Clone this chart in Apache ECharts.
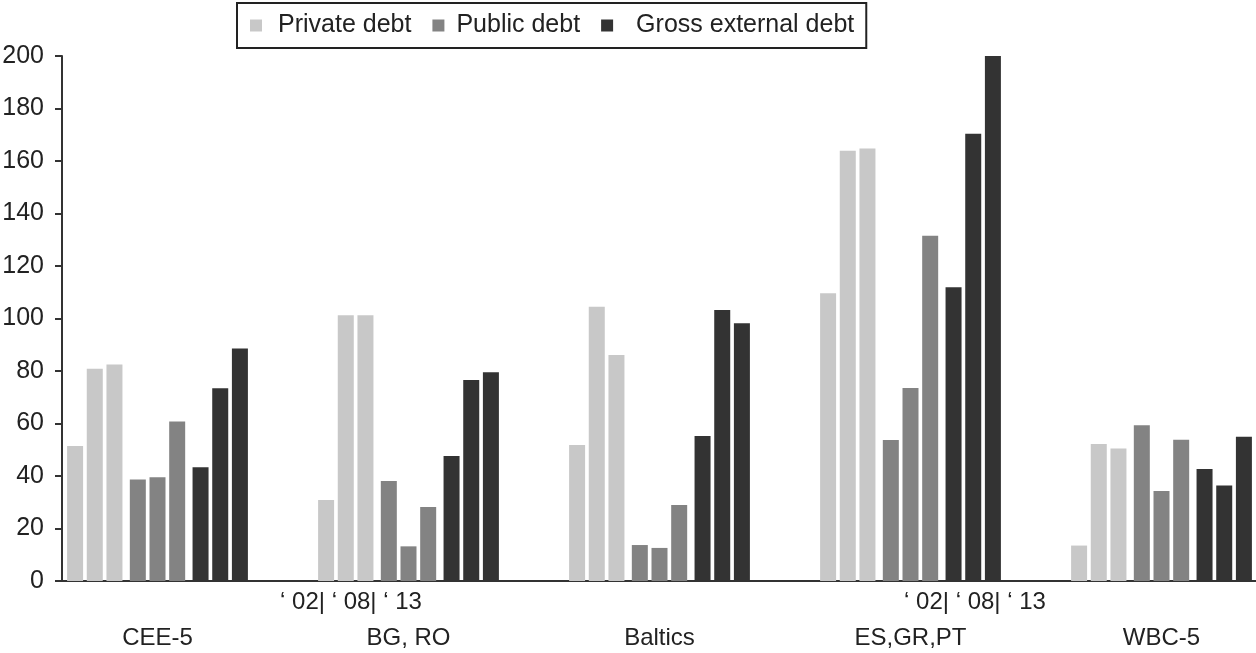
<!DOCTYPE html>
<html>
<head>
<meta charset="utf-8">
<script src="https://cdn.jsdelivr.net/npm/echarts@6/dist/echarts.min.js"></script>
<style>
html,body{margin:0;padding:0;background:#fff;}
#chart{width:1256px;height:653px;}
</style>
</head>
<body>
<div id="chart"></div>
<script>
// Regions (categories)
const categories = ['CEE-5', 'BG, RO', 'Baltics', 'ES,GR,PT', 'WBC-5'];
// Years shown as sub-bars within each debt type
const yearLabel = '\u2018 02| \u2018 08| \u2018 13';
// Y axis ticks
const yTicks = [0, 20, 40, 60, 80, 100, 120, 140, 160, 180, 200];
// Legend entries
const debtTypes = ['Private debt', 'Public debt', 'Gross external debt'];

// Private debt ('02, '08, '13)
const private02 = [51.4, 30.9, 51.8, 109.6, 13.5];
const private08 = [80.9, 101.2, 104.5, 163.9, 52.2];
const private13 = [82.5, 101.2, 86.1, 164.8, 50.5];
// Public debt
const public02 = [38.7, 38.1, 13.7, 53.7, 59.3];
const public08 = [39.5, 13.2, 12.6, 73.5, 34.3];
const public13 = [60.8, 28.2, 29.0, 131.5, 53.8];
// Gross external debt
const gross02 = [43.3, 47.6, 55.2, 111.9, 42.7];
const gross08 = [73.4, 76.6, 103.2, 170.4, 36.4];
const gross13 = [88.6, 79.5, 98.2, 200.0, 55.0];

const FONT = 'Liberation Sans, Arial, Helvetica, sans-serif';
const TXT = '#222';
const C_PRIV = '#c8c8c8', C_PUB = '#838383', C_GROSS = '#333333';

function bar(name, data, color) {
  return {
    type: 'bar', name: name, data: data,
    xAxisIndex: 0, yAxisIndex: 0,
    barWidth: 16, barGap: '23%',
    itemStyle: { color: color },
    silent: true
  };
}
function spacer() {
  return { type: 'bar', name: '', data: [], xAxisIndex: 0, yAxisIndex: 0, barWidth: 3, barGap: '23%', silent: true };
}

const chart = echarts.init(document.getElementById('chart'), null, { renderer: 'canvas' });
chart.setOption({
  animation: false,
  backgroundColor: '#fff',
  textStyle: { fontFamily: FONT },
  legend: {
    data: [
      { name: debtTypes[0], textStyle: { padding: [0, 0, 0, 11] } },
      { name: debtTypes[1], textStyle: { padding: [0, 0, 0, 7] } },
      { name: debtTypes[2], textStyle: { padding: [0, 0, 0, 18] } }
    ],
    left: 237, top: 3,
    padding: [10, 12, 10, 13],
    borderColor: '#222', borderWidth: 2,
    itemWidth: 12, itemHeight: 12, itemGap: 21,
    icon: 'rect',
    selectedMode: false,
    textStyle: { fontSize: 25, color: TXT, fontFamily: FONT }
  },
  grid: [
    { left: 32, top: 56, width: 1255, bottom: 72, containLabel: false, outerBoundsMode: 'none' },
    { left: 56, top: 56, right: 0, bottom: 72, containLabel: false, outerBoundsMode: 'none' }
  ],
  xAxis: [
    {
      type: 'category', gridIndex: 0, data: categories,
      axisLine: { show: false }, axisTick: { show: false },
      axisLabel: { fontSize: 24, color: TXT, fontFamily: FONT, margin: 45 }
    },
    {
      type: 'category', gridIndex: 1, data: categories,
      axisLine: { show: true, lineStyle: { color: '#333', width: 2 } },
      axisTick: { show: false }, axisLabel: { show: false }
    }
  ],
  yAxis: [
    { type: 'value', gridIndex: 0, min: 0, max: 200, interval: 20, show: false },
    {
      type: 'value', gridIndex: 1, min: yTicks[0], max: yTicks[yTicks.length - 1], interval: 20,
      offset: -6,
      axisLine: { show: true, lineStyle: { color: '#333', width: 2 } },
      axisTick: { show: true, length: 7, lineStyle: { color: '#333', width: 2 } },
      splitLine: { show: false },
      axisLabel: { fontSize: 25, color: TXT, fontFamily: FONT, margin: 18 }
    }
  ],
  graphic: [
    { type: 'text', x: 351, y: 602, style: { text: yearLabel, font: '24px ' + FONT, fill: TXT, align: 'center', verticalAlign: 'middle' } },
    { type: 'text', x: 975, y: 602, style: { text: yearLabel, font: '24px ' + FONT, fill: TXT, align: 'center', verticalAlign: 'middle' } }
  ],
  series: [
    bar(debtTypes[0], private02, C_PRIV),
    bar(debtTypes[0], private08, C_PRIV),
    bar(debtTypes[0], private13, C_PRIV),
    spacer(),
    bar(debtTypes[1], public02, C_PUB),
    bar(debtTypes[1], public08, C_PUB),
    bar(debtTypes[1], public13, C_PUB),
    spacer(),
    bar(debtTypes[2], gross02, C_GROSS),
    bar(debtTypes[2], gross08, C_GROSS),
    bar(debtTypes[2], gross13, C_GROSS)
  ]
});
</script>
</body>
</html>
